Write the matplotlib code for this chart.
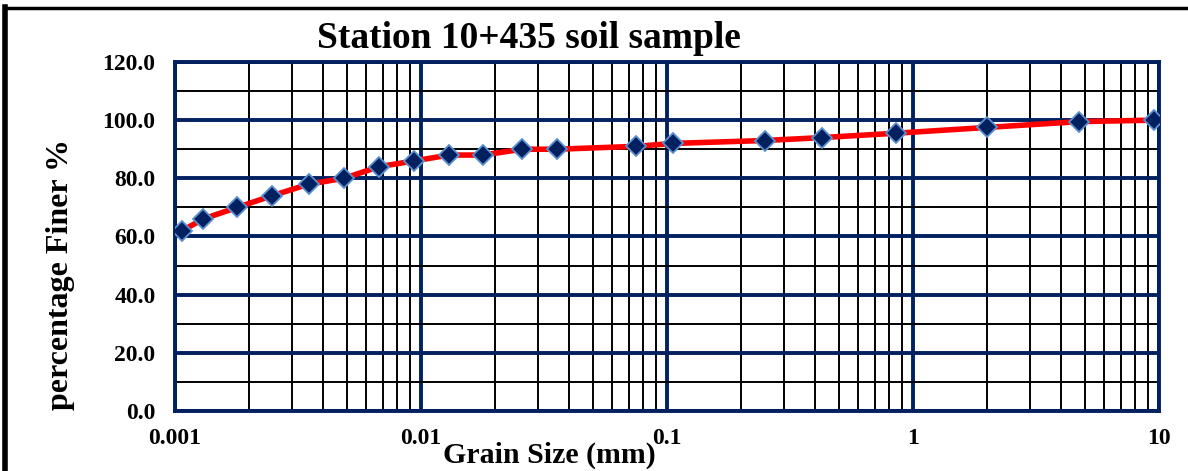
import matplotlib
matplotlib.use("Agg")
import matplotlib.pyplot as plt
from matplotlib.lines import Line2D
from matplotlib.ticker import LogLocator, FixedLocator, NullFormatter, FixedFormatter

plt.rcParams["font.family"] = ["Liberation Serif", "DejaVu Serif"]
plt.rcParams["font.weight"] = "bold"

# grain size (mm) and percent finer
grain_mm = [0.00107, 0.0013, 0.00179, 0.00248, 0.0035, 0.00486, 0.00675, 0.0094,
            0.013, 0.0179, 0.0257, 0.0357, 0.075, 0.106, 0.25, 0.425, 0.85,
            2.0, 4.75, 9.5]
finer_pct = [62, 66, 70, 74, 78, 80, 84, 86,
             88, 88, 90, 90, 91, 92, 93, 94, 95.5,
             97.5, 99.5, 100]

x_ticks = [0.001, 0.01, 0.1, 1, 10]
x_labels = ["0.001", "0.01", "0.1", "1", "10"]
y_ticks = [0, 20, 40, 60, 80, 100, 120]
y_labels = ["0.0", "20.0", "40.0", "60.0", "80.0", "100.0", "120.0"]

NAVY = "#002060"

fig = plt.figure(figsize=(11.88, 4.71), dpi=100)
ax = fig.add_axes([0.1473, 0.1274, 0.8283, 0.741])

ax.plot(grain_mm, finer_pct, color="#ff0000", linewidth=4, zorder=3,
        marker="D", markersize=10, markerfacecolor=NAVY,
        markeredgecolor="#5b8fd0", markeredgewidth=1.3)

ax.set_xscale("log")
ax.set_xlim(0.001, 10)
ax.set_ylim(0, 120)

ax.xaxis.set_major_locator(FixedLocator(x_ticks))
ax.xaxis.set_major_formatter(FixedFormatter(x_labels))
ax.xaxis.set_minor_locator(LogLocator(base=10, subs=range(2, 10)))
ax.xaxis.set_minor_formatter(NullFormatter())
ax.yaxis.set_major_locator(FixedLocator(y_ticks))
ax.yaxis.set_major_formatter(FixedFormatter(y_labels))
ax.yaxis.set_minor_locator(FixedLocator([10, 30, 50, 70, 90, 110]))

ax.grid(which="minor", color="black", linewidth=1.4, zorder=1)
ax.grid(which="major", color=NAVY, linewidth=2.8, zorder=2)
ax.set_axisbelow(True)

for s in ax.spines.values():
    s.set_color(NAVY)
    s.set_linewidth(2.8)

ax.tick_params(which="both", length=0)
ax.tick_params(axis="x", pad=12, labelsize=17)
ax.tick_params(axis="y", pad=14, labelsize=17)
for t in ax.get_xticklabels() + ax.get_yticklabels():
    t.set_fontweight("bold")

fig.text(529 / 1188, 1 - 38 / 471, "Station 10+435 soil sample",
         fontsize=27, fontweight="bold", ha="center", va="center")
fig.text(549 / 1188, 1 - 455 / 471, "Grain Size (mm)",
         fontsize=21.5, fontweight="bold", ha="center", va="center")
fig.text(61 / 1188, 1 - 275 / 471, "percentage Finer %", rotation=90,
         fontsize=23, fontweight="bold", ha="center", va="center")

# frame lines at the left and top of the picture
fig.add_artist(Line2D([0.0045, 0.0045], [0, 0.985], transform=fig.transFigure,
                      color="black", linewidth=4))
fig.add_artist(Line2D([0.0045, 1.0], [0.983, 0.983], transform=fig.transFigure,
                      color="black", linewidth=2.5))

fig.savefig("out.png", dpi=100)
